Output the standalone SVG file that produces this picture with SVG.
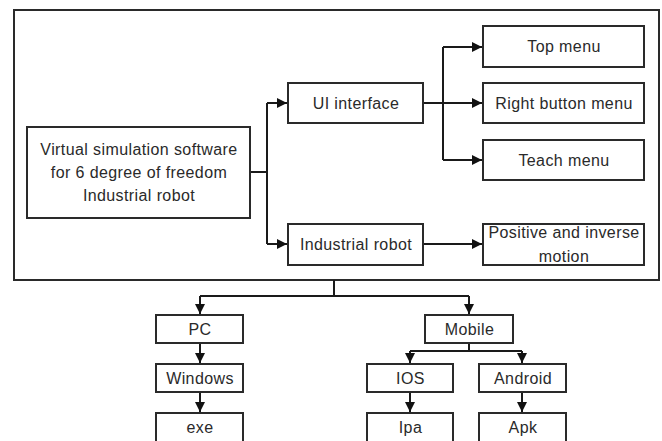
<svg xmlns="http://www.w3.org/2000/svg" width="662" height="441" viewBox="0 0 662 441">
<style>
.box{fill:#fff;stroke:#2a2a2a;stroke-width:2}
.frame{fill:none;stroke:#2a2a2a;stroke-width:2}
.ln{fill:none;stroke:#1a1a1a;stroke-width:2}
text{font-family:"Liberation Sans",Arial,sans-serif;font-size:16px;letter-spacing:0.4px;fill:#2a2a2a;text-anchor:middle}
</style>
<defs>
<marker id="ah" viewBox="0 0 10 10" refX="10" refY="5" markerWidth="5" markerHeight="5" orient="auto" markerUnits="strokeWidth">
<path d="M0,0 L10,5 L0,10 z" fill="#111"/>
</marker>
</defs>
<rect class="frame" x="14" y="10" width="645" height="270"/>
<g id="connectors">
<path class="ln" d="M250,172 H267"/>
<path class="ln" d="M267,103 V244"/>
<path class="ln" d="M267,103 H287" marker-end="url(#ah)"/>
<path class="ln" d="M267,244 H287" marker-end="url(#ah)"/>
<path class="ln" d="M423,103 H482" marker-end="url(#ah)"/>
<path class="ln" d="M443,47 V160"/>
<path class="ln" d="M443,47 H482" marker-end="url(#ah)"/>
<path class="ln" d="M443,160 H482" marker-end="url(#ah)"/>
<path class="ln" d="M423,244 H482" marker-end="url(#ah)"/>
<path class="ln" d="M334,280 V296"/>
<path class="ln" d="M200,296 H469"/>
<path class="ln" d="M200,296 V314" marker-end="url(#ah)"/>
<path class="ln" d="M469,296 V314" marker-end="url(#ah)"/>
<path class="ln" d="M200,343 V363" marker-end="url(#ah)"/>
<path class="ln" d="M200,392 V412" marker-end="url(#ah)"/>
<path class="ln" d="M469,343 V351"/>
<path class="ln" d="M410,351 H522"/>
<path class="ln" d="M410,351 V363" marker-end="url(#ah)"/>
<path class="ln" d="M522,351 V363" marker-end="url(#ah)"/>
<path class="ln" d="M410,392 V412" marker-end="url(#ah)"/>
<path class="ln" d="M522,392 V412" marker-end="url(#ah)"/>
</g>
<g id="main"><rect class="box" x="27" y="127" width="223" height="91"/>
<text x="139" y="155">Virtual simulation software</text>
<text x="139" y="178">for 6 degree of freedom</text>
<text x="139" y="201">Industrial robot</text></g>
<g id="ui"><rect class="box" x="288" y="83" width="135" height="40"/><text x="356" y="109">UI interface</text></g>
<g id="robot"><rect class="box" x="288" y="224" width="135" height="41"/><text x="356" y="250">Industrial robot</text></g>
<g id="top"><rect class="box" x="483" y="26" width="161" height="41"/><text x="564" y="52">Top menu</text></g>
<g id="right"><rect class="box" x="483" y="83" width="161" height="40"/><text x="564" y="109">Right button menu</text></g>
<g id="teach"><rect class="box" x="483" y="140" width="161" height="40"/><text x="564" y="166">Teach menu</text></g>
<g id="motion"><rect class="box" x="483" y="224" width="161" height="41"/><text x="564" y="238">Positive and inverse</text><text x="564" y="262">motion</text></g>
<g id="pc"><rect class="box" x="156" y="315" width="87" height="28"/><text x="200" y="335">PC</text></g>
<g id="windows"><rect class="box" x="156" y="364" width="87" height="28"/><text x="200" y="384">Windows</text></g>
<g id="exe"><rect class="box" x="156" y="413" width="87" height="32"/><text x="200" y="433">exe</text></g>
<g id="mobile"><rect class="box" x="425" y="315" width="88" height="28"/><text x="469.5" y="335">Mobile</text></g>
<g id="ios"><rect class="box" x="367" y="364" width="86" height="28"/><text x="410.5" y="384">IOS</text></g>
<g id="android"><rect class="box" x="479" y="364" width="87" height="28"/><text x="523" y="384">Android</text></g>
<g id="ipa"><rect class="box" x="367" y="413" width="86" height="32"/><text x="410.5" y="433">Ipa</text></g>
<g id="apk"><rect class="box" x="479" y="413" width="87" height="32"/><text x="523" y="433">Apk</text></g>
</svg>
